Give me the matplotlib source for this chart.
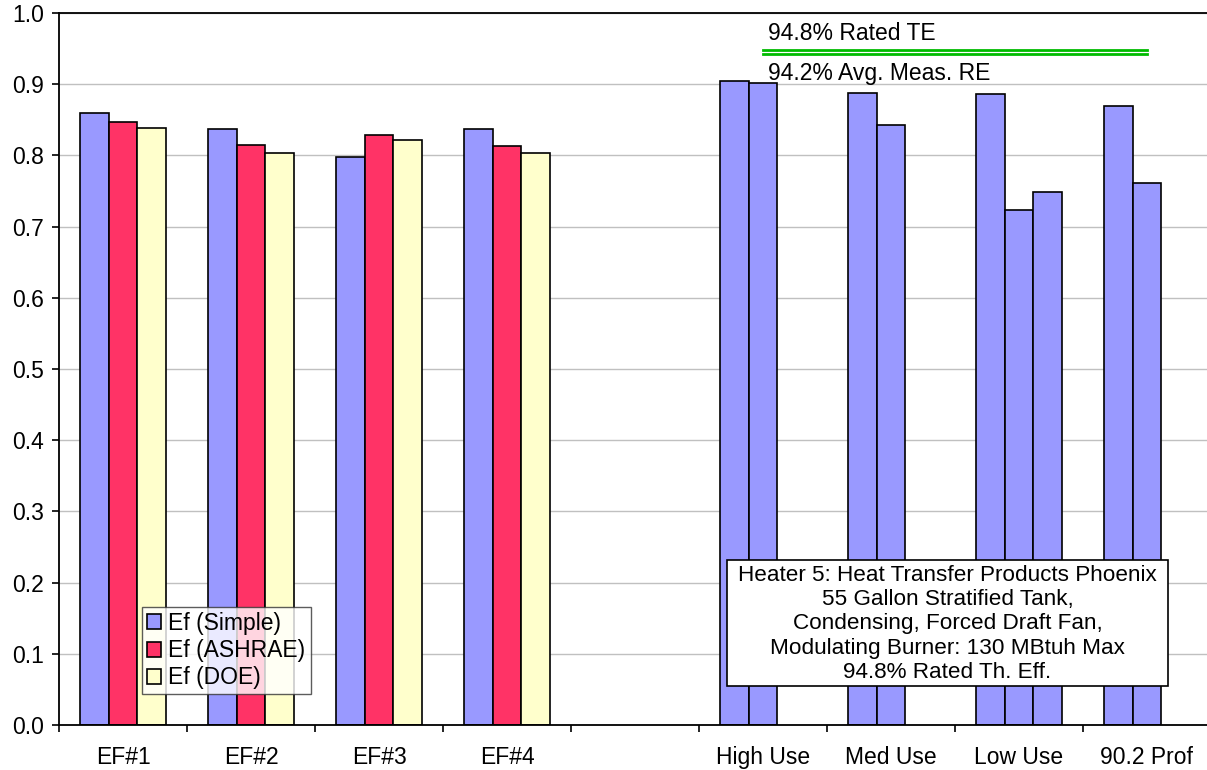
import numpy as np
import matplotlib.pyplot as plt
from matplotlib.patches import Patch, Rectangle
from matplotlib.ticker import MultipleLocator, FixedLocator

plt.rcParams['font.family'] = ['Liberation Sans', 'DejaVu Sans']

categories = ['EF#1', 'EF#2', 'EF#3', 'EF#4', '', 'High Use', 'Med Use', 'Low Use', '90.2 Prof']

# energy factor tests, three calculation methods
ef_simple = [0.860, 0.837, 0.798, 0.837]
ef_ashrae = [0.847, 0.814, 0.829, 0.813]
ef_doe = [0.839, 0.804, 0.822, 0.803]

# recovery efficiency under the draw profiles (runs per profile)
profile_run1 = [0.905, 0.887, 0.886, 0.869]
profile_run2 = [0.902, 0.843, 0.723, 0.761]
profile_run3 = [np.nan, np.nan, 0.748, np.nan]

rated_te = 0.948
avg_meas_re = 0.942

c_simple = '#9999ff'
c_ashrae = '#ff3366'
c_doe = '#ffffcc'

FS = 16.5

fig = plt.figure(figsize=(12.07, 7.70), dpi=100)
W, H = 1207, 770
ax = fig.add_axes([59 / W, 45 / H, 1152 / W, 712 / H])

w = 1 / 4.5
x_ef = np.arange(4)
x_prof = np.arange(5, 9)
bar_kw = dict(width=w, edgecolor='black', linewidth=1.2, zorder=3)

ax.bar(x_ef - w, ef_simple, color=c_simple, **bar_kw)
ax.bar(x_ef, ef_ashrae, color=c_ashrae, **bar_kw)
ax.bar(x_ef + w, ef_doe, color=c_doe, **bar_kw)

ax.bar(x_prof - w, profile_run1, color=c_simple, **bar_kw)
ax.bar(x_prof, profile_run2, color=c_simple, **bar_kw)
ax.bar(x_prof + w, profile_run3, color=c_simple, **bar_kw)

# rated and measured efficiency reference lines
ax.plot([x_prof[0], x_prof[-1]], [rated_te] * 2, color='#00bb00', lw=2.0, zorder=4)
ax.plot([x_prof[0], x_prof[-1]], [avg_meas_re] * 2, color='#00bb00', lw=2.0, zorder=4)
ax.text(x_prof[0] + 0.04, 0.962, f'{rated_te * 100:.1f}% Rated TE', fontsize=FS,
        va='baseline', ha='left', zorder=5)
ax.text(x_prof[0] + 0.04, 0.906, f'{avg_meas_re * 100:.1f}% Avg. Meas. RE', fontsize=FS,
        va='baseline', ha='left', zorder=5)

ax.set_xlim(-0.5, 8.5)
ax.set_ylim(0, 1.0)

ax.yaxis.set_major_locator(MultipleLocator(0.1))
ax.yaxis.set_major_formatter(plt.FormatStrFormatter('%.1f'))
ax.tick_params(axis='y', direction='out', length=5, width=1.2, labelsize=FS, pad=6)
ax.grid(axis='y', color='#c0c0c0', lw=1, zorder=0)

ax.xaxis.set_major_locator(FixedLocator(np.arange(-0.5, 9, 1)))
ax.xaxis.set_minor_locator(FixedLocator(np.arange(9)))
ax.set_xticklabels([], minor=False)
ax.set_xticklabels(categories, minor=True)
ax.tick_params(axis='x', which='major', direction='out', length=5, width=1.2)
ax.tick_params(axis='x', which='minor', length=0, labelsize=FS, pad=15)

for s in ['left', 'bottom', 'top']:
    ax.spines[s].set_linewidth(1.3)
    ax.spines[s].set_zorder(6)
ax.spines['right'].set_visible(False)

handles = [Patch(facecolor=c_simple, edgecolor='black', lw=1.2),
           Patch(facecolor=c_ashrae, edgecolor='black', lw=1.2),
           Patch(facecolor=c_doe, edgecolor='black', lw=1.2)]
leg = fig.legend(handles, ['Ef (Simple)', 'Ef (ASHRAE)', 'Ef (DOE)'],
                 loc='upper left', bbox_to_anchor=(142 / W, 1 - 607 / H),
                 fontsize=FS, frameon=True, fancybox=False, shadow=False,
                 handlelength=0.63, handleheight=0.63, handletextpad=0.3,
                 labelspacing=0.18, borderpad=0.22, borderaxespad=0)
leg.get_frame().set_edgecolor('#333333')
leg.get_frame().set_linewidth(1.0)

# heater description box
note = ('Heater 5: Heat Transfer Products Phoenix\n'
        '55 Gallon Stratified Tank,\n'
        'Condensing, Forced Draft Fan,\n'
        'Modulating Burner: 130 MBtuh Max\n'
        '94.8% Rated Th. Eff.')
fig.add_artist(Rectangle((727 / W, 1 - 686 / H), 441 / W, 126 / H,
                         transform=fig.transFigure, facecolor='white',
                         edgecolor='black', lw=1.2, zorder=9))
fig.text(947.5 / W, 1 - 624 / H, note, fontsize=16.2, ha='center', va='center',
         linespacing=1.2, zorder=10)

fig.savefig('out.png', dpi=100)
